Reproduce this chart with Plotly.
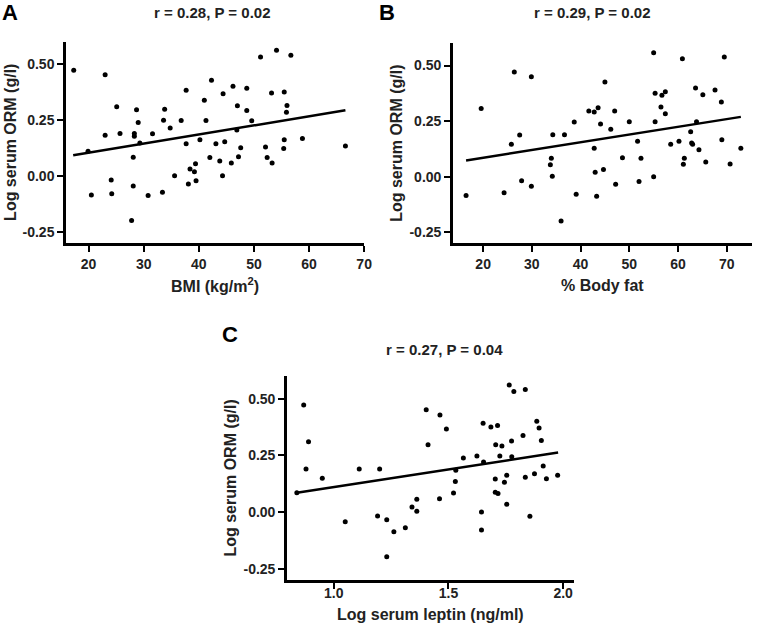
import plotly.graph_objects as go

W, H = 765, 631

# ---------------- data ----------------
A_bmi = [17.3, 23.0, 25.1, 28.7, 29.0, 23.0, 25.7, 28.3, 28.3, 29.3, 31.6, 33.8, 33.6, 34.8,
         36.8, 37.7, 41.0, 42.3, 41.3, 37.7, 40.2, 43.1, 44.7, 44.4, 46.2, 48.7, 47.0, 48.7,
         49.6, 46.9, 47.6, 47.2, 45.9, 43.8, 42.0, 39.4, 38.4, 39.2, 39.5, 38.1, 35.6, 44.3,
         33.4, 30.8, 28.1, 28.1, 24.1, 24.2, 20.5, 27.8, 19.9, 51.2, 54.1, 56.7, 53.2, 55.5,
         56.0, 55.9, 52.1, 52.4, 53.3, 55.5, 55.4, 58.8, 66.6]
A_orm = [0.472, 0.452, 0.309, 0.295, 0.238, 0.181, 0.189, 0.189, 0.177, 0.147, 0.188, 0.298,
         0.249, 0.214, 0.247, 0.383, 0.338, 0.427, 0.247, 0.144, 0.161, 0.144, 0.153, 0.367,
         0.400, 0.391, 0.313, 0.292, 0.246, 0.205, 0.126, 0.085, 0.057, 0.066, 0.082, 0.054,
         0.031, 0.018, -0.022, -0.036, 0.001, 0.000, -0.073, -0.088, -0.045, 0.083, -0.018,
         -0.080, -0.086, -0.199, 0.110, 0.531, 0.561, 0.539, 0.370, 0.375, 0.314, 0.284,
         0.129, 0.082, 0.057, 0.161, 0.122, 0.167, 0.134]
A_fit_x = [17.2, 66.6]
A_fit_y = [0.092, 0.293]

B_fat = [16.5, 19.6, 26.4, 29.9, 25.8, 27.5, 24.3, 27.9, 29.9, 34.3, 36.7, 34.0, 33.8, 34.2,
         39.1, 36.0, 38.7, 41.7, 42.8, 43.6, 45.0, 44.1, 42.8, 43.0, 44.7, 43.3, 46.2, 47.0,
         47.2, 48.6, 50.0, 51.7, 52.4, 52.0, 55.0, 55.3, 55.3, 55.0, 56.7, 57.4, 56.5, 57.4,
         58.5, 60.2, 60.9, 61.1, 61.3, 62.6, 62.8, 63.0, 63.6, 63.8, 64.3, 65.1, 65.7, 67.6,
         68.9, 69.0, 69.5, 70.7, 72.9]
B_orm = [-0.085, 0.307, 0.471, 0.450, 0.146, 0.188, -0.072, -0.018, -0.043, 0.189, 0.189,
         0.083, 0.054, 0.002, -0.079, -0.199, 0.246, 0.295, 0.291, 0.310, 0.426, 0.237, 0.128,
         0.020, 0.032, -0.088, 0.213, 0.295, -0.034, 0.085, 0.247, 0.160, 0.083, -0.022, 0.558,
         0.375, 0.247, 0.000, 0.366, 0.382, 0.313, 0.283, 0.146, 0.160, 0.531, 0.056, 0.083,
         0.202, 0.152, 0.146, 0.399, 0.247, 0.121, 0.369, 0.066, 0.390, 0.336, 0.166, 0.538,
         0.057, 0.128]
B_fit_x = [16.5, 72.9]
B_fit_y = [0.073, 0.269]

C_leptin = [0.839, 0.869, 0.890, 0.879, 0.950, 1.050, 1.111, 1.200, 1.191, 1.231, 1.262, 1.231,
            1.312, 1.341, 1.362, 1.362, 1.403, 1.411, 1.463, 1.491, 1.461, 1.522, 1.530, 1.532,
            1.565, 1.624, 1.651, 1.653, 1.685, 1.714, 1.706, 1.733, 1.724, 1.704, 1.704, 1.716,
            1.744, 1.754, 1.754, 1.644, 1.644, 1.765, 1.785, 1.775, 1.776, 1.825, 1.835, 1.835,
            1.855, 1.875, 1.885, 1.895, 1.905, 1.913, 1.927, 1.976]
C_orm = [0.085, 0.472, 0.310, 0.190, 0.149, -0.043, 0.190, 0.190, -0.018, -0.034, -0.087,
         -0.197, -0.069, 0.022, 0.056, 0.003, 0.451, 0.297, 0.428, 0.366, 0.059, 0.084, 0.135,
         0.184, 0.238, 0.247, 0.391, 0.221, 0.375, 0.382, 0.297, 0.291, 0.247, 0.146, 0.087,
         0.082, 0.131, 0.162, 0.034, 0.000, -0.079, 0.560, 0.532, 0.313, 0.244, 0.338, 0.540,
         0.153, -0.019, 0.169, 0.400, 0.371, 0.315, 0.203, 0.147, 0.162]
C_fit_x = [0.839, 1.978]
C_fit_y = [0.085, 0.262]

y_ticks = [-0.25, 0.0, 0.25, 0.50]
y_ticktext = ["-0.25", "0.00", "0.25", "0.50"]
A_xticks = [20, 30, 40, 50, 60, 70]
B_xticks = [20, 30, 40, 50, 60, 70]
C_xticks = [1.0, 1.5, 2.0]
C_xticktext = ["1.0", "1.5", "2.0"]

titles = ["r = 0.28, P = 0.02", "r = 0.29, P = 0.02", "r = 0.27, P = 0.04"]
xtitles = ["BMI (kg/m<sup>2</sup>)", "% Body fat", "Log serum leptin (ng/ml)"]
ytitle = "Log serum ORM (g/l)"
letters = ["A", "B", "C"]

# ---------------- layout helpers ----------------
FONT = "Liberation Sans, Arial, sans-serif"

def px_x(p):
    return p / W

def px_y(p):
    return 1 - p / H

# pixel boxes of each plotting area: (left, right, top, bottom)
boxes = {
    "A": (66.7, 368.0, 41.6, 243.0),
    "B": (457.7, 760.0, 43.3, 243.4),
    "C": (290.0, 580.0, 376.0, 580.0),
}

fig = go.Figure()

panels = [
    ("A", A_bmi, A_orm, A_fit_x, A_fit_y, [15.9, 70.0], A_xticks, [str(v) for v in A_xticks], 0),
    ("B", B_fat, B_orm, B_fit_x, B_fit_y, [13.8, 75.2], B_xticks, [str(v) for v in B_xticks], 0),
    ("C", C_leptin, C_orm, C_fit_x, C_fit_y, [0.796, 2.047], C_xticks, C_xticktext, -8),
]

axis_common = dict(
    showline=True, linecolor="black", linewidth=2.5, mirror=False,
    ticks="outside", ticklen=6, tickwidth=2, tickcolor="black",
    showgrid=False, zeroline=False,
    tickfont=dict(family=FONT, size=14, color="#222", weight="bold"),
)

for i, (name, xs, ys, fx, fy, xr, xt, xtt, standoff) in enumerate(panels):
    n = "" if i == 0 else str(i + 1)
    l, r, t, b = boxes[name]
    fig.add_trace(go.Scatter(x=xs, y=ys, mode="markers",
                             marker=dict(color="black", size=5),
                             xaxis="x" + n, yaxis="y" + n, showlegend=False))
    fig.add_trace(go.Scatter(x=fx, y=fy, mode="lines",
                             line=dict(color="black", width=2.5),
                             xaxis="x" + n, yaxis="y" + n, showlegend=False))
    fig.update_layout(**{
        "xaxis" + n: dict(domain=[px_x(l), px_x(r)], range=xr, anchor="y" + n,
                          tickvals=xt, ticktext=xtt, ticklabelstandoff=standoff,
                          **axis_common),
        "yaxis" + n: dict(domain=[px_y(b), px_y(t)], range=[-0.3, 0.6], anchor="x" + n,
                          tickvals=y_ticks, ticktext=y_ticktext, **axis_common),
    })

annotations = []
title_pos = [(214.7, 12.5), (598.0, 13.0), (449.7, 349.0)]
letter_pos = [(10.0, 13.0), (391.0, 13.0), (232.0, 334.0)]
xtitle_pos = [(217.0, 285.0), (609.0, 285.0), (435.0, 614.0)]
ytitle_pos = [(10.0, 142.0), (400.0, 143.0), (232.0, 478.0)]

for i in range(3):
    tx, ty = title_pos[i]
    annotations.append(dict(text="<b>%s</b>" % titles[i], x=px_x(tx), y=px_y(ty),
                            xref="paper", yref="paper", showarrow=False,
                            xanchor="center", yanchor="middle",
                            font=dict(family=FONT, size=15, color="#222")))
    lx, ly = letter_pos[i]
    annotations.append(dict(text="<b>%s</b>" % letters[i], x=px_x(lx), y=px_y(ly),
                            xref="paper", yref="paper", showarrow=False,
                            xanchor="center", yanchor="middle",
                            font=dict(family=FONT, size=22, color="black")))
    xx, xy = xtitle_pos[i]
    annotations.append(dict(text="<b>%s</b>" % xtitles[i], x=px_x(xx), y=px_y(xy),
                            xref="paper", yref="paper", showarrow=False,
                            xanchor="center", yanchor="middle",
                            font=dict(family=FONT, size=16, color="#222")))
    yx, yy = ytitle_pos[i]
    annotations.append(dict(text="<b>%s</b>" % ytitle, x=px_x(yx), y=px_y(yy),
                            xref="paper", yref="paper", showarrow=False, textangle=-90,
                            xanchor="center", yanchor="middle",
                            font=dict(family=FONT, size=16, color="#222")))

fig.update_layout(
    width=W, height=H,
    margin=dict(l=0, r=0, t=0, b=0),
    paper_bgcolor="white", plot_bgcolor="white",
    annotations=annotations,
    showlegend=False,
)

fig.write_html("out.html",
               config={"displayModeBar": False},
               post_script="document.body.style.margin='0';document.body.style.overflow='hidden';")
